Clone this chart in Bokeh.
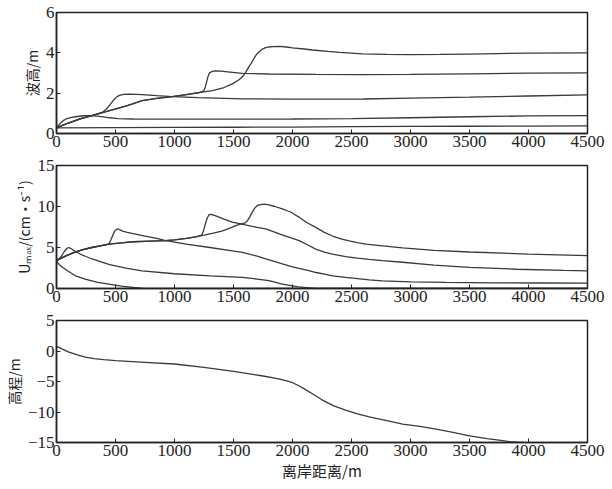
from bokeh.plotting import figure
from bokeh.layouts import column
from bokeh.models import Range1d, FixedTicker
from bokeh.embed import file_html
from bokeh.resources import INLINE

# ---------------- Panel 1: wave height (m) ----------------
h1_x = [0, 500, 1000, 1500, 2000, 2500, 3000, 3500, 4000, 4500]
h1_y = [0.28, 0.29, 0.30, 0.31, 0.32, 0.34, 0.35, 0.36, 0.37, 0.38]

h2_x = [0, 20, 40, 60, 80, 120, 160, 230, 300, 380, 450, 520, 650, 1000, 1500, 2000, 2500, 3000, 3500, 4000, 4500]
h2_y = [0.28, 0.42, 0.55, 0.65, 0.72, 0.79, 0.83, 0.88, 0.89, 0.84, 0.78, 0.74, 0.72, 0.71, 0.71, 0.72, 0.74, 0.78, 0.83, 0.87, 0.89]

h3_x = [0, 100, 200, 300, 380, 400, 420, 440, 460, 485, 513, 540, 570, 620, 726, 850, 980, 1200, 1575, 2000, 2600, 3000, 3500, 4000, 4500]
h3_y = [0.28, 0.52, 0.72, 0.89, 1.03, 1.1, 1.2, 1.33, 1.48, 1.67, 1.83, 1.9, 1.94, 1.95, 1.93, 1.88, 1.83, 1.78, 1.72, 1.70, 1.71, 1.75, 1.80, 1.86, 1.92]

h4_x = [0, 100, 200, 300, 450, 600, 726, 850, 980, 1100, 1200, 1235, 1250, 1262, 1272, 1280, 1290, 1300, 1320, 1340, 1400, 1450, 1575, 1800, 2200, 2600, 3000, 3500, 4000, 4500]
h4_y = [0.28, 0.52, 0.72, 0.89, 1.13, 1.38, 1.63, 1.74, 1.83, 1.93, 2.02, 2.07, 2.15, 2.32, 2.55, 2.75, 2.92, 3.02, 3.08, 3.10, 3.09, 3.06, 2.98, 2.95, 2.93, 2.92, 2.93, 2.96, 2.99, 3.01]

h5_x = [0, 100, 200, 300, 450, 600, 726, 850, 980, 1100, 1235, 1322, 1420, 1490, 1550, 1580, 1603, 1630, 1650, 1670, 1688, 1710, 1730, 1750, 1773, 1800, 1830, 1886, 1950, 2000, 2100, 2169, 2300, 2400, 2593, 2800, 3000, 3250, 3500, 4000, 4500]
h5_y = [0.28, 0.52, 0.72, 0.89, 1.13, 1.38, 1.63, 1.74, 1.83, 1.93, 2.05, 2.13, 2.28, 2.46, 2.68, 2.84, 3.03, 3.3, 3.48, 3.68, 3.86, 4.02, 4.12, 4.2, 4.26, 4.29, 4.31, 4.32, 4.29, 4.25, 4.19, 4.14, 4.07, 4.02, 3.95, 3.92, 3.91, 3.92, 3.94, 3.99, 4.0]

# ---------------- Panel 2: U_max (cm/s) ----------------
u1_x = [0, 25, 50, 100, 160, 250, 350, 443, 550, 650, 726, 800, 4500]
u1_y = [3.3, 2.9, 2.6, 2.1, 1.55, 1.1, 0.75, 0.54, 0.3, 0.12, 0.03, 0.0, 0.0]

u2_x = [0, 40, 70, 90, 103, 120, 140, 170, 200, 250, 301, 450, 600, 726, 1000, 1300, 1575, 1700, 1800, 1914, 2050, 2197, 2300, 4500]
u2_y = [3.3, 3.9, 4.6, 4.9, 5.0, 4.9, 4.7, 4.45, 4.2, 3.9, 3.6, 2.9, 2.45, 2.16, 1.8, 1.55, 1.35, 1.15, 0.95, 0.54, 0.2, 0.02, 0.0, 0.0]

u3_x = [0, 75, 150, 225, 300, 370, 443, 460, 480, 495, 513, 530, 560, 600, 650, 750, 850, 924, 1100, 1300, 1490, 1575, 1700, 1773, 1900, 2000, 2056, 2130, 2200, 2270, 2339, 2450, 2550, 2650, 2763, 3000, 3300, 3700, 4100, 4500]
u3_y = [3.4, 3.95, 4.4, 4.75, 5.0, 5.2, 5.4, 5.9, 6.6, 7.05, 7.26, 7.2, 7.0, 6.85, 6.7, 6.4, 6.1, 5.83, 5.4, 5.0, 4.6, 4.4, 3.95, 3.6, 3.05, 2.65, 2.45, 2.2, 1.95, 1.75, 1.55, 1.35, 1.2, 1.05, 0.94, 0.82, 0.74, 0.69, 0.67, 0.66]

u4_x = [0, 75, 150, 225, 300, 370, 443, 550, 650, 800, 924, 1000, 1100, 1180, 1230, 1245, 1260, 1275, 1292, 1310, 1350, 1420, 1490, 1600, 1700, 1773, 1900, 2000, 2056, 2130, 2197, 2270, 2339, 2450, 2550, 2650, 2763, 2933, 3200, 3500, 3900, 4300, 4500]
u4_y = [3.4, 3.95, 4.4, 4.75, 5.0, 5.2, 5.4, 5.57, 5.7, 5.78, 5.83, 5.92, 6.1, 6.3, 6.5, 7.0, 7.8, 8.5, 9.0, 9.05, 8.85, 8.45, 8.1, 7.75, 7.45, 7.26, 6.6, 6.1, 5.83, 5.3, 4.8, 4.45, 4.2, 3.9, 3.7, 3.55, 3.4, 3.2, 2.85, 2.57, 2.35, 2.2, 2.16]

u5_x = [0, 75, 150, 225, 300, 370, 443, 550, 650, 800, 924, 1000, 1100, 1180, 1250, 1330, 1400, 1460, 1518, 1560, 1600, 1620, 1640, 1660, 1680, 1700, 1716, 1760, 1800, 1850, 1914, 1960, 1990, 2020, 2056, 2120, 2197, 2270, 2339, 2410, 2480, 2550, 2622, 2763, 2933, 3200, 3500, 4000, 4500]
u5_y = [3.4, 3.95, 4.4, 4.75, 5.0, 5.2, 5.4, 5.57, 5.7, 5.78, 5.83, 5.92, 6.1, 6.3, 6.5, 6.75, 7.0, 7.3, 7.67, 7.85, 8.0, 8.3, 8.8, 9.35, 9.8, 10.1, 10.2, 10.3, 10.2, 10.0, 9.7, 9.45, 9.3, 9.0, 8.7, 8.05, 7.45, 6.85, 6.4, 6.05, 5.8, 5.6, 5.4, 5.2, 4.95, 4.65, 4.45, 4.2, 4.0]

# ---------------- Panel 3: elevation (m) ----------------
z_x = [0, 50, 100, 170, 243, 320, 400, 500, 750, 1000, 1250, 1500, 1650, 1750, 1850, 1900, 1950, 2000, 2050, 2100, 2168, 2250, 2350, 2450, 2550, 2650, 2800, 2933, 3080, 3216, 3350, 3500, 3650, 3750, 3839, 3900, 3950]
z_y = [0.77, 0.3, -0.15, -0.6, -1.0, -1.25, -1.42, -1.58, -1.85, -2.13, -2.7, -3.35, -3.8, -4.1, -4.45, -4.65, -4.9, -5.2, -5.65, -6.2, -7.0, -8.0, -9.0, -9.7, -10.3, -10.8, -11.4, -12.0, -12.35, -12.8, -13.3, -13.9, -14.35, -14.6, -14.85, -14.95, -15.0]

x_ticks = [0, 500, 1000, 1500, 2000, 2500, 3000, 3500, 4000, 4500]

SERIF = "Liberation Serif"
CJK = "Noto Sans CJK SC"
LINE = "#3a3a3a"


def make_fig(frame_h, top, bottom, yr, yticks, ylabel, xlabel=None):
    p = figure(frame_width=531, frame_height=frame_h,
               x_range=Range1d(0, 4500), y_range=Range1d(*yr),
               output_backend="svg", toolbar_location=None,
               min_border_left=55, min_border_right=26,
               min_border_top=top, min_border_bottom=bottom)
    p.grid.visible = False
    p.outline_line_color = "#222222"
    p.outline_line_width = 1.5
    p.background_fill_color = "white"
    p.border_fill_color = "white"
    for ax in (p.xaxis[0], p.yaxis[0]):
        ax.major_tick_in = 4
        ax.major_tick_out = 0
        ax.minor_tick_in = 0
        ax.minor_tick_out = 0
        ax.axis_line_color = "#222222"
        ax.axis_line_width = 1.5
        ax.major_tick_line_color = "#222222"
        ax.major_label_text_font = SERIF
        ax.major_label_text_font_size = "17px"
        ax.major_label_text_color = "#222222"
        ax.major_label_standoff = 2
    p.xaxis[0].ticker = FixedTicker(ticks=x_ticks)
    p.yaxis[0].ticker = FixedTicker(ticks=yticks)
    p.yaxis[0].axis_label = ylabel
    p.yaxis[0].axis_label_text_font = CJK
    p.yaxis[0].axis_label_text_font_size = "14px"
    p.yaxis[0].axis_label_text_font_style = "normal"
    p.yaxis[0].axis_label_text_color = "#222222"
    p.yaxis[0].axis_label_standoff = 1
    if xlabel:
        p.xaxis[0].axis_label = xlabel
        p.xaxis[0].axis_label_text_font = CJK
        p.xaxis[0].axis_label_text_font_size = "15px"
        p.xaxis[0].axis_label_text_font_style = "normal"
        p.xaxis[0].axis_label_text_color = "#222222"
        p.xaxis[0].axis_label_standoff = 1
    return p


p1 = make_fig(121, 12, 20, (0, 6), [0, 2, 4, 6], "波高/m")
for xs, ys in [(h1_x, h1_y), (h2_x, h2_y), (h3_x, h3_y), (h4_x, h4_y), (h5_x, h5_y)]:
    p1.line(xs, ys, line_color=LINE, line_width=1.3)

p2 = make_fig(123, 12, 20, (0, 15), [0, 5, 10, 15], "Uₘₐₓ/(cm·s⁻¹)")
for xs, ys in [(u1_x, u1_y), (u2_x, u2_y), (u3_x, u3_y), (u4_x, u4_y), (u5_x, u5_y)]:
    p2.line(xs, ys, line_color=LINE, line_width=1.3)

p3 = make_fig(122, 12, 47, (-15, 5), [-15, -10, -5, 0, 5], "高程/m", "离岸距离/m")
p3.line(z_x, z_y, line_color=LINE, line_width=1.3)

layout = column(p1, p2, p3, spacing=0)
open("out.html", "w").write(file_html(layout, INLINE))
